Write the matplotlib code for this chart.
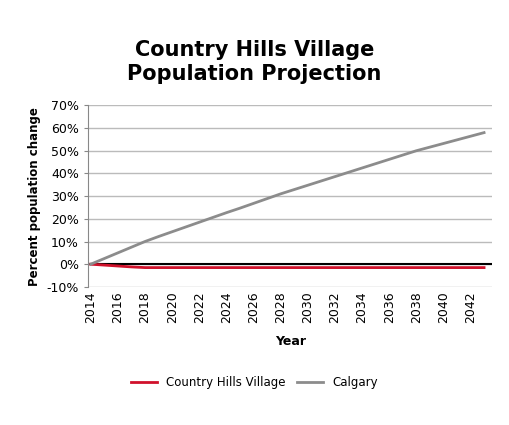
import matplotlib.pyplot as plt
from matplotlib.ticker import FuncFormatter

years = list(range(2014, 2044))
country_hills = [0.0, -0.4, -0.8, -1.2, -1.5, -1.5, -1.5, -1.5, -1.5, -1.5,
                 -1.5, -1.5, -1.5, -1.5, -1.5, -1.5, -1.5, -1.5, -1.5, -1.5,
                 -1.5, -1.5, -1.5, -1.5, -1.5, -1.5, -1.5, -1.5, -1.5, -1.5]
calgary = [0.0, 2.5, 5.0, 7.5, 10.0, 12.2, 14.3, 16.4, 18.5, 20.6,
           22.7, 24.7, 26.8, 28.9, 31.0, 32.9, 34.8, 36.7, 38.6, 40.5,
           42.4, 44.3, 46.2, 48.1, 50.0, 51.6, 53.2, 54.8, 56.4, 58.0]

plt.rcParams['font.family'] = ['DejaVu Sans']
fig = plt.figure(figsize=(5.09, 4.25), dpi=100)
ax = fig.add_axes([0.173, 0.325, 0.794, 0.427])

ax.plot(years, country_hills, color='#d0112b', lw=2, label='Country Hills Village', zorder=3)
ax.plot(years, calgary, color='#8c8c8c', lw=2, label='Calgary', zorder=3)
ax.axhline(0, color='black', lw=1.5, zorder=2)

ax.set_xlim(2013.8, 2043.6)
ax.set_ylim(-10, 70)
ax.set_yticks(range(-10, 71, 10))
ax.yaxis.set_major_formatter(FuncFormatter(lambda v, p: f'{int(v)}%'))
ax.set_xticks(range(2014, 2044, 2))
ax.tick_params(axis='x', labelsize=9, length=0)
plt.setp(ax.get_xticklabels(), rotation=90)
ax.tick_params(axis='y', labelsize=9, length=3, color='#888888')
ax.grid(axis='y', color='#bbbbbb', lw=1)
for s in ['top', 'right', 'bottom']:
    ax.spines[s].set_visible(False)
ax.spines['left'].set_color('#888888')

ax.set_xlabel('Year', fontsize=9, fontweight='bold', labelpad=8)
ax.set_ylabel('Percent population change', fontsize=8.5, fontweight='bold')
fig.suptitle('Country Hills Village\nPopulation Projection', fontsize=15,
             fontweight='bold', y=0.905)
fig.legend(loc='center', bbox_to_anchor=(0.5, 0.1), ncol=2, frameon=False,
           fontsize=8.5, handlelength=2.2, columnspacing=1.0)

fig.savefig('out.png', dpi=100)
